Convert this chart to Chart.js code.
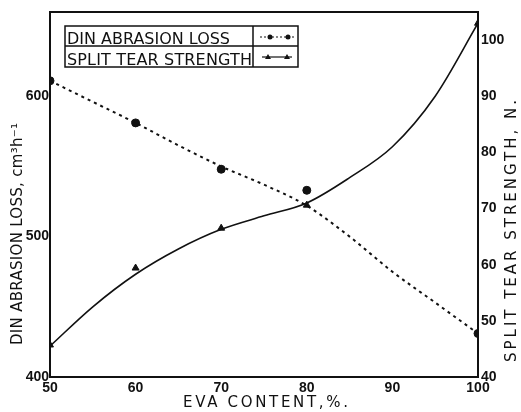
<!DOCTYPE html>
<html>
<head>
<meta charset="utf-8">
<script src="https://cdn.jsdelivr.net/npm/chart.js@4"></script>
<style>
  html, body { margin: 0; padding: 0; background: #fff; }
  #wrap { width: 521px; height: 412px; }
</style>
</head>
<body>
<div id="wrap"><canvas id="evaChart" width="521" height="412"></canvas></div>
<script>
// ===============================
// Data
// ===============================
const evaContent = [50, 60, 70, 80, 100];
const abrasionLoss = [611, 581, 548, 533, 431];
const tearStrength = [45.7, 59.4, 66.5, 70.6, 103];

// smoothed curves as drawn in the figure
const curveX = [50, 55, 60, 65, 70, 75, 80, 85, 90, 95, 100];
const abrasionCurve = [611, 596, 581, 565, 550, 537, 522, 500, 475, 453, 431];
const tearCurve = [45.5, 52.5, 58.3, 62.8, 66.3, 68.7, 71.0, 75.5, 81.0, 90.0, 103];

const xTicks = [50, 60, 70, 80, 90, 100];
const leftTicks = [400, 500, 600];
const rightTicks = [40, 50, 60, 70, 80, 90, 100];

const legendLabels = ['DIN ABRASION LOSS', 'SPLIT TEAR STRENGTH'];

const ink = '#111';
const fontFam = '"DejaVu Sans", sans-serif';
const numFam = '"Liberation Sans", Arial, sans-serif';

function pairs(xs, ys) {
  return xs.map((x, i) => ({ x: x, y: ys[i] }));
}

// draw text stretched/squeezed to a given width
function fitText(ctx, text, x, y, width) {
  const w = ctx.measureText(text).width;
  ctx.save();
  if (w > width) {
    ctx.translate(x, y);
    ctx.scale(width / w, 1);
    ctx.fillText(text, 0, 0);
  } else {
    if ('letterSpacing' in ctx) ctx.letterSpacing = ((width - w) / (text.length - 1)).toFixed(2) + 'px';
    ctx.fillText(text, x, y);
  }
  ctx.restore();
}

// ===============================
// Plugin: frame, legend box, axis titles
// ===============================
const decor = {
  id: 'decor',
  afterDraw(chart) {
    const ctx = chart.ctx;
    const a = chart.chartArea;
    ctx.save();
    ctx.strokeStyle = ink;
    ctx.fillStyle = ink;

    // top frame line
    ctx.lineWidth = 2;
    ctx.beginPath();
    ctx.moveTo(a.left, a.top);
    ctx.lineTo(a.right, a.top);
    ctx.stroke();

    // legend box
    ctx.lineWidth = 1.5;
    ctx.strokeRect(65, 26, 233, 41);
    ctx.beginPath();
    ctx.moveTo(65, 46); ctx.lineTo(298, 46);
    ctx.moveTo(253, 26); ctx.lineTo(253, 67);
    ctx.stroke();

    ctx.font = '16px ' + fontFam;
    ctx.textBaseline = 'alphabetic';
    ctx.textAlign = 'left';
    fitText(ctx, legendLabels[0], 67, 44, 163);
    fitText(ctx, legendLabels[1], 67, 65, 185);

    // legend samples
    ctx.lineWidth = 1.2;
    ctx.setLineDash([2, 2]);
    ctx.beginPath();
    ctx.moveTo(260, 37); ctx.lineTo(294, 37);
    ctx.stroke();
    ctx.setLineDash([]);
    [270, 288].forEach(px => {
      ctx.beginPath(); ctx.arc(px, 37, 2.5, 0, Math.PI * 2); ctx.fill();
    });
    ctx.beginPath();
    ctx.moveTo(262, 57); ctx.lineTo(292, 57);
    ctx.stroke();
    [268, 287].forEach(px => {
      ctx.beginPath();
      ctx.moveTo(px, 54); ctx.lineTo(px + 3, 59); ctx.lineTo(px - 3, 59);
      ctx.closePath(); ctx.fill();
    });

    // axis titles
    ctx.font = '15px ' + fontFam;
    ctx.textBaseline = 'middle';
    ctx.textAlign = 'left';
    fitText(ctx, 'EVA CONTENT,%.', 183, 403, 165);

    ctx.save();
    ctx.translate(18, 345);
    ctx.rotate(-Math.PI / 2);
    fitText(ctx, 'DIN ABRASION LOSS, cm³h⁻¹', 0, 0, 222);
    ctx.restore();

    ctx.save();
    ctx.translate(512, 362);
    ctx.rotate(-Math.PI / 2);
    fitText(ctx, 'SPLIT TEAR STRENGTH, N.', 0, 0, 262);
    ctx.restore();

    ctx.restore();
  }
};

// ===============================
// Chart: EVA content vs abrasion loss / tear strength
// ===============================
new Chart(document.getElementById('evaChart'), {
  type: 'scatter',
  data: {
    datasets: [
      {
        label: 'abrasion curve',
        data: pairs(curveX, abrasionCurve),
        yAxisID: 'y',
        showLine: true,
        borderColor: ink,
        borderWidth: 2,
        borderDash: [3, 4],
        pointRadius: 0,
        cubicInterpolationMode: 'monotone'
      },
      {
        label: legendLabels[0],
        data: pairs(evaContent, abrasionLoss),
        yAxisID: 'y',
        pointStyle: 'circle',
        pointRadius: 4,
        backgroundColor: ink,
        borderColor: ink
      },
      {
        label: 'tear curve',
        data: pairs(curveX, tearCurve),
        yAxisID: 'y1',
        showLine: true,
        borderColor: ink,
        borderWidth: 1.6,
        pointRadius: 0,
        cubicInterpolationMode: 'monotone'
      },
      {
        label: legendLabels[1],
        data: pairs(evaContent, tearStrength),
        yAxisID: 'y1',
        pointStyle: 'triangle',
        pointRadius: 4,
        backgroundColor: ink,
        borderColor: ink
      }
    ]
  },
  options: {
    responsive: false,
    animation: false,
    layout: { padding: { top: 12, left: 0, right: 0, bottom: 0 } },
    plugins: { legend: { display: false }, tooltip: { enabled: false } },
    scales: {
      x: {
        type: 'linear',
        min: 50,
        max: 100,
        afterFit: s => { s.height = 35; },
        afterBuildTicks: s => { s.ticks = xTicks.map(v => ({ value: v })); },
        grid: { display: false, drawTicks: false },
        border: { display: true, color: ink, width: 2 },
        ticks: { color: ink, padding: 3, font: { family: numFam, size: 14, weight: 'bold' } }
      },
      y: {
        type: 'linear',
        position: 'left',
        min: 400,
        max: 660,
        afterFit: s => { s.width = 50; },
        afterBuildTicks: s => { s.ticks = leftTicks.map(v => ({ value: v })); },
        grid: { display: false, drawTicks: false },
        border: { display: true, color: ink, width: 2 },
        ticks: { color: ink, padding: 1, font: { family: numFam, size: 14, weight: 'bold' } }
      },
      y1: {
        type: 'linear',
        position: 'right',
        min: 40,
        max: 105,
        afterFit: s => { s.width = 43; },
        afterBuildTicks: s => { s.ticks = rightTicks.map(v => ({ value: v })); },
        grid: { display: false, drawTicks: false },
        border: { display: true, color: ink, width: 2 },
        ticks: { color: ink, padding: 3, font: { family: numFam, size: 14, weight: 'bold' } }
      }
    }
  },
  plugins: [decor]
});
</script>
</body>
</html>
